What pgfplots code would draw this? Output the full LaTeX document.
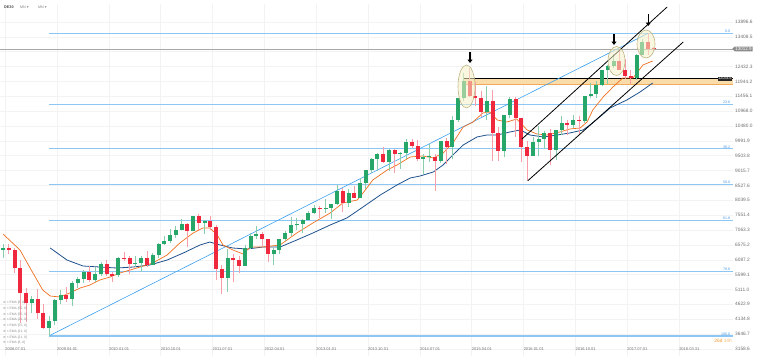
\documentclass[border=0pt]{standalone}
\usepackage{fontspec}
\setmainfont{Liberation Sans}
\newfontfamily\dejavu{DejaVu Sans}
\usepackage{pgfplots}
\usepackage{pgfplotstable}
\pgfplotsset{compat=1.18}
\usetikzlibrary{arrows.meta,shapes.symbols}

\definecolor{cgreen}{RGB}{38,166,104}
\definecolor{cred}{RGB}{240,40,62}
\definecolor{fibc}{RGB}{140,198,245}
\definecolor{fibtext}{RGB}{70,150,230}
\definecolor{diagc}{RGB}{60,160,240}
\definecolor{emaorange}{RGB}{240,110,30}
\definecolor{emablue}{RGB}{30,80,140}
\definecolor{gridc}{RGB}{243,243,243}
\definecolor{tickc}{RGB}{110,110,110}
\definecolor{bandc}{RGB}{250,220,170}
\definecolor{bandedge}{RGB}{240,170,90}
\definecolor{ellfill}{RGB}{245,240,200}
\definecolor{elldraw}{RGB}{190,180,130}
\definecolor{timec}{RGB}{245,150,40}

\pgfplotstableread{
x o h l c
0 6418 6607 6150 6479
5 4669 4889 4347 4810
8 3843 4234 3588 4085
9 4085 4787 3946 4770
10 4770 5084 4632 4941
12 4809 5389 4558 5332
13 5332 5528 5176 5465
14 5465 5761 5326 5675
16 5415 5840 5372 5625
17 5625 6026 5548 5957
20 5598 6187 5530 6154
23 5964 6197 5857 5966
24 5966 6201 5700 6148
26 5925 6304 5903 6229
27 6229 6636 6149 6601
28 6601 6857 6562 6688
29 6688 7087 6653 6914
30 6914 7193 6812 7077
31 7077 7427 7050 7272
33 7041 7527 7030 7514
35 7294 7407 6934 7376
39 5502 6431 5038 6141
42 5898 6564 5866 6458
43 6458 6971 6454 6856
44 6856 7194 6763 6947
47 6264 6463 5915 6416
48 6416 6777 6268 6772
49 6772 7046 6719 6970
50 6970 7479 6878 7216
51 7216 7451 7067 7260
52 7260 7415 6950 7405
53 7405 7693 7387 7612
54 7612 7871 7600 7776
56 7742 8074 7631 7795
57 7795 7923 7417 7914
58 7914 8558 7890 8349
60 7959 8402 7818 8276
62 8104 8770 8104 8594
63 8594 9049 8410 9033
64 9033 9424 8947 9406
65 9406 9594 9010 9552
67 9306 9732 9017 9692
69 9556 9630 9073 9603
70 9603 10050 9410 9943
73 9407 9550 8903 9470
74 9470 9892 9311 9500
76 9327 10001 9255 9981
78 9806 10810 9382 10694
79 10694 11401 10597 11402
80 11402 12219 11295 11966
84 10945 11802 10676 11309
87 9660 10851 9452 10850
88 10850 11430 10730 11382
92 9495 10104 9481 9966
93 9966 10474 9485 10039
94 10039 10331 9736 10263
96 9680 10337 9373 10337
97 10337 10802 10172 10593
99 10511 10827 10406 10665
101 10640 11481 10582 11481
102 11481 11893 11400 11535
103 11535 11958 11406 11834
104 11834 12313 11780 12313
105 12313 12486 11849 12438
106 12438 12842 12389 12615
110 12056 12834 12000 12829
111 12829 13330 12800 13230
}\greentab

\pgfplotstableread{
x o h l c
1 6479 6618 6278 6422
2 6422 6487 5658 5831
3 5831 6088 4014 4988
4 4988 5170 4035 4669
6 4810 5111 4130 4338
7 4338 4649 3827 3843
11 4941 5208 4697 4809
15 5675 5888 5359 5415
18 5957 6094 5540 5608
19 5608 5675 5352 5540
21 6154 6342 6048 6136
22 6136 6225 5607 5964
25 6148 6386 5856 5925
32 7272 7304 6514 7041
34 7514 7600 7064 7294
36 7376 7523 7061 7159
37 7159 7229 5433 5785
38 5785 5926 4965 5502
40 6141 6277 5358 6089
41 6089 6222 5638 5898
45 6947 7004 6521 6761
46 6761 6778 6029 6264
55 7776 7844 7460 7742
59 8349 8440 7655 7959
61 8276 8494 8101 8104
66 9552 9794 9255 9306
68 9692 9725 8931 9556
71 9943 10051 9760 9833
72 9833 10033 9340 9407
75 9474 9545 8355 9327
77 9981 10093 9219 9806
81 11966 12391 11430 11454
82 11454 11920 11122 11414
83 11414 11636 10772 10945
85 11309 11670 9338 10259
86 10259 10438 9325 9660
89 11382 11430 10123 10743
90 10743 10743 9314 9798
91 9798 9995 8699 9495
95 10263 10374 9214 9680
98 10593 10681 10189 10511
100 10665 10802 10175 10640
107 12615 12952 12325 12325
108 12325 12676 12014 12118
109 12118 12334 11868 12056
112 13230 13526 12828 13024
113 13045 13090 12950 13013
}\redtab

\pgfplotsset{
  candle/.style={only marks, mark=*, mark size=0pt, mark options={draw opacity=0, fill opacity=0}, forget plot,
    error bars/y dir=plus, error bars/y explicit, error bars/error mark=none},
}

\begin{document}
\begin{tikzpicture}
\useasboundingbox (0,0) rectangle (760pt,360pt);
\begin{axis}[
  at={(0pt,4pt)}, anchor=south west, scale only axis,
  width=733pt, height=352pt,
  xmin=-0.521, xmax=126.74, ymin=2926.0, ymax=14487.8,
  axis line style={draw=none}, major tick length=0pt,
  xtick={0.375,9.375,18.375,27.375,36.375,45.375,54.375,63.375,72.375,81.375,90.375,99.375,108.375,117.375},
  xticklabels={2008.07.01,2009.04.01,2010.01.01,2010.10.01,2011.07.01,2012.04.01,2013.01.01,2013.10.01,2014.07.01,2015.04.01,2016.01.01,2016.10.01,2017.07.01,2018.03.31},
  ytick={3158.6,3646.7,4134.8,4622.9,5111.0,5599.1,6087.2,6575.2,7063.3,7551.4,8039.5,8527.6,9015.7,9503.8,9991.9,10480.0,10968.0,11456.1,11944.2,12432.3,12920.4,13408.5,13896.6},
  yticklabels={3158.6,3646.7,4134.8,4622.9,5111.0,5599.1,6087.2,6575.2,7063.3,7551.4,8039.5,8527.6,9015.7,9503.8,9991.9,10480.0,10968.0,11456.1,11944.2,12432.3,{},13408.5,13896.6},
  yticklabel pos=right,
  grid=major, major grid style={gridc, line width=0.5pt},
  tick label style={text=tickc},
  xticklabel style={font=\fontsize{4}{4}\selectfont, anchor=base west, yshift=6pt, inner sep=0pt},
  yticklabel style={font=\fontsize{4.8}{5}\selectfont, anchor=west, inner sep=0pt, xshift=2pt},
]
% Fibonacci levels
\addplot[fibc, line width=1pt, forget plot] coordinates {(8,13525) (126.74,13525)};
\addplot[fibc, line width=1pt, forget plot] coordinates {(8,11180.4) (126.74,11180.4)};
\addplot[fibc, line width=1pt, forget plot] coordinates {(8,9729.6) (126.74,9729.6)};
\addplot[fibc, line width=1pt, forget plot] coordinates {(8,8556.5) (126.74,8556.5)};
\addplot[fibc, line width=1pt, forget plot] coordinates {(8,7384.0) (126.74,7384.0)};
\addplot[fibc, line width=1pt, forget plot] coordinates {(8,5714.6) (126.74,5714.6)};
\addplot[fibc, line width=1.6pt, forget plot] coordinates {(8,3588) (126.74,3588)};
\node[anchor=south east, inner sep=0.6pt, font=\fontsize{3.6}{4}\selectfont, text=fibtext] at (axis cs:126.4,13525) {0.0};
\node[anchor=south east, inner sep=0.6pt, font=\fontsize{3.6}{4}\selectfont, text=fibtext] at (axis cs:126.4,11180.4) {23.6};
\node[anchor=south east, inner sep=0.6pt, font=\fontsize{3.6}{4}\selectfont, text=fibtext] at (axis cs:126.4,9729.6) {38.2};
\node[anchor=south east, inner sep=0.6pt, font=\fontsize{3.6}{4}\selectfont, text=fibtext] at (axis cs:126.4,8556.5) {50.0};
\node[anchor=south east, inner sep=0.6pt, font=\fontsize{3.6}{4}\selectfont, text=fibtext] at (axis cs:126.4,7384.0) {61.8};
\node[anchor=south east, inner sep=0.6pt, font=\fontsize{3.6}{4}\selectfont, text=fibtext] at (axis cs:126.4,5714.6) {78.6};
\node[anchor=south east, inner sep=0.6pt, font=\fontsize{3.6}{4}\selectfont, text=fibtext] at (axis cs:126.4,3588) {100.0};
% current price line
\addplot[black!35, line width=0.5pt, forget plot] coordinates {(-0.521,13012.9) (126.74,13012.9)};
% resistance zone
\fill[bandc] (axis cs:80,11860) rectangle (axis cs:126.74,12034.6);
\draw[bandedge, line width=0.4pt] (axis cs:80,11860) -- (axis cs:126.74,11860);
\addplot[black, line width=0.9pt, forget plot] coordinates {(80,12034.6) (126.74,12034.6)};
% diagonal of the retracement
\addplot[diagc, line width=0.6pt, forget plot] coordinates {(8,3588) (112,13525)};
% EMA lines
\addplot[emablue, line width=0.8pt, forget plot] coordinates {
(8.2,6473) (11.1,6079) (13.9,5882) (16.8,5849) (19.8,5816) (22.6,5849) (25.5,5915) (28.5,6079)
(31.3,6309) (34.2,6572) (35.9,6670) (37.7,6572) (39.9,6473) (42.4,6440) (45.1,6506) (48.1,6506)
(51.0,6736) (53.8,6966) (56.8,7229) (59.7,7459) (62.5,7820) (65.5,8214) (68.4,8543) (70.7,8773)
(72.4,8838) (74.7,8970) (76.4,9200) (78.1,9528) (79.9,9857) (82.3,10120) (84.0,10185) (85.8,10185)
(88.0,10284) (89.8,10350) (91.5,10185) (93.8,10120) (96.2,10185) (98.4,10251) (100.7,10350)
(101.9,10514) (103.6,10777) (105.4,11072) (108.3,11335) (110.6,11598) (112.8,11893)};
\addplot[emaorange, line width=0.7pt, forget plot] coordinates {
(0,6933) (2.95,6408) (5.2,5652) (6.9,5094) (8.2,4897) (9.9,4864) (11.6,4996) (13.4,5160)
(15.1,5258) (16.8,5422) (18.6,5521) (20.3,5652) (23.8,5849) (26.0,5981) (28.5,6244) (30.7,6638)
(33.0,6966) (34.7,7130) (35.9,7130) (37.2,6900) (38.2,6572) (39.9,6408) (41.7,6276) (42.9,6506)
(45.1,6506) (48.1,6572) (51.0,6966) (53.8,7295) (56.8,7623) (59.0,7952) (61.5,8050) (62.5,8280)
(64.2,8707) (66.7,9036) (68.4,9200) (70.7,9463) (72.9,9496) (74.7,9430) (76.4,9594) (78.1,9923)
(79.9,10448) (81.6,10612) (83.3,10908) (84.5,10941) (85.8,10678) (87.5,10612) (89.2,10711)
(91.0,10350) (92.7,10218) (94.4,10185) (96.7,10284) (98.4,10383) (100.2,10415) (101.4,10612)
(102.4,11007) (104.2,11434) (105.9,11762) (107.6,12058) (109.4,12058) (111.1,12485) (112.8,12616)};
% candle wicks
\addplot[candle, error bars/error bar style={line width=0.8pt, cgreen!55}]
  table[x=x, y=l, y error expr=\thisrow{h}-\thisrow{l}] {\greentab};
\addplot[candle, error bars/error bar style={line width=0.8pt, cred!45}]
  table[x=x, y=l, y error expr=\thisrow{h}-\thisrow{l}] {\redtab};
% candle bodies
\addplot[candle, error bars/error bar style={line width=4pt, cgreen}]
  table[x=x, y=o, y error expr=\thisrow{c}-\thisrow{o}] {\greentab};
\addplot[candle, error bars/error bar style={line width=4pt, cred}]
  table[x=x, y=c, y error expr=\thisrow{o}-\thisrow{c}] {\redtab};
% channel lines
\addplot[black, line width=0.8pt, forget plot] coordinates {(90.1,10054) (115.3,14389)};
\addplot[black, line width=0.8pt, forget plot] coordinates {(91.1,8680) (118.1,13240)};
\end{axis}

\begin{scope}[x=1pt, y=-1pt, shift={(0pt,360pt)}]
% ellipses
\draw[elldraw, fill=ellfill, fill opacity=0.55, line width=0.6pt] (466.5,86.5) ellipse [x radius=8.5, y radius=21.5];
\draw[elldraw, fill=ellfill, fill opacity=0.55, line width=0.6pt] (616.5,61) ellipse [x radius=8.5, y radius=14.5];
\draw[elldraw, fill=ellfill, fill opacity=0.55, line width=0.6pt] (646,44) ellipse [x radius=9, y radius=14];
% arrows
\draw[-{Triangle[width=5pt,length=3.5pt]}, line width=1.3pt] (470,52) -- (470,63);
\draw[-{Triangle[width=5pt,length=3.5pt]}, line width=1.3pt] (614,34) -- (614,45);
\draw[-{Triangle[width=5pt,length=3.5pt]}, line width=1.3pt] (648.3,14) -- (648.3,26);
% price tags
\node[shape=signal, signal to=west, fill=black!45, text=white, inner sep=0.8pt, font=\fontsize{4.5}{5}\selectfont, anchor=west] at (732,48.9) {13012.9};
\node[fill=black!85, text=white, inner sep=0.8pt, font=\fontsize{3.6}{4}\selectfont, anchor=east] at (732.5,78.7) {12034.6};
% header
\node[anchor=west, inner sep=0pt, font=\fontsize{3.8}{4}\selectfont\bfseries, text=black!70] at (4,7) {DE30};
\node[anchor=west, inner sep=0pt, font=\fontsize{3.6}{4}\selectfont, text=black!50] at (20,7) {MN {\dejavu ▾}};
\node[anchor=west, inner sep=0pt, font=\fontsize{3.6}{4}\selectfont, text=black!50] at (38,7) {MN {\dejavu ▾}};
% indicator list
\foreach \t [count=\i from 0] in {{EMA [8, 0]},{EMA [55, 0]},{EMA [55, 0]},{EMA [21, 0]},{EMA [55, 0]},{EMA [21, 0]},{EMA [21, 0]},{EMA [8, 0]}}
  \node[anchor=west, inner sep=0pt, font=\fontsize{3.3}{3.5}\selectfont, text=black!45] at (3,{303+5.7*\i}) {{\dejavu ≡} × \t};
% countdown
\node[anchor=east, inner sep=0pt, font=\fontsize{4.8}{5}\selectfont] at (732,341) {\textcolor{timec}{26d} \textcolor{timec!70}{14h}};
\end{scope}
\end{tikzpicture}
\end{document}
